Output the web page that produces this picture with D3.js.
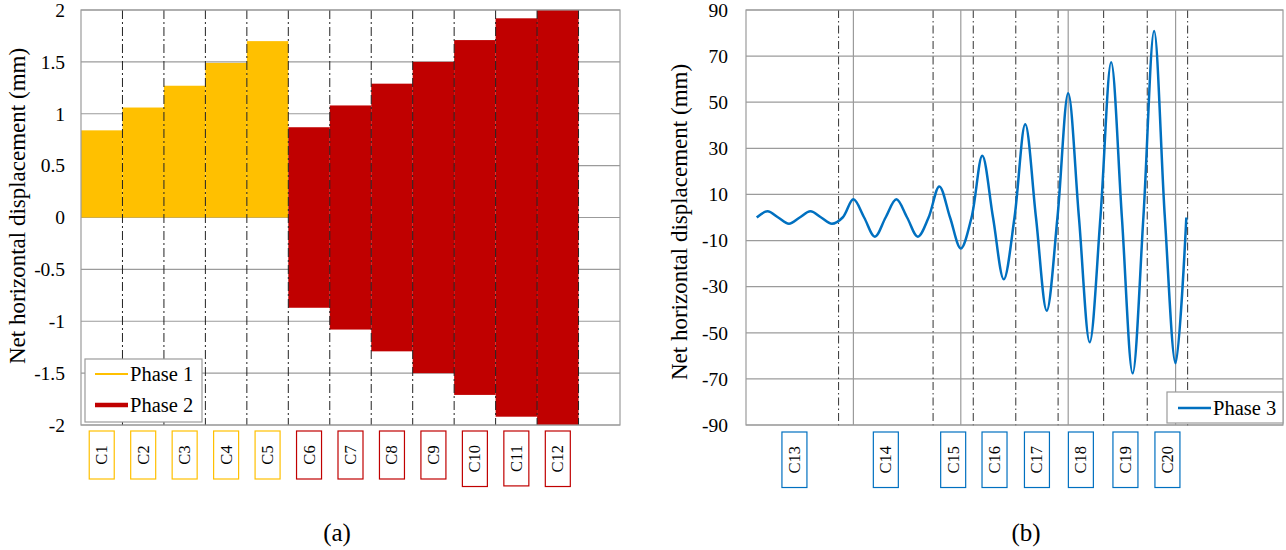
<!DOCTYPE html>
<html>
<head>
<meta charset="utf-8">
<script src="https://cdn.jsdelivr.net/npm/d3@7"></script>
<style>
  body { margin: 0; background: #fff; }
  text { font-family: "Liberation Serif", "Times New Roman", serif; fill: #000; }
</style>
</head>
<body>
<div id="chart"></div>
<script>
// Chart (a): net displacement per cycle
const phase1Labels = ["C1", "C2", "C3", "C4", "C5"];
const phase1Values = [0.84, 1.06, 1.27, 1.49, 1.70];
const phase2Labels = ["C6", "C7", "C8", "C9", "C10", "C11", "C12"];
const phase2Values = [0.87, 1.08, 1.29, 1.50, 1.71, 1.92, 2.13];
const yTicksA = [-2, -1.5, -1, -0.5, 0, 0.5, 1, 1.5, 2];

// Chart (b): phase 3 displacement history (zero crossings and peaks)
const phase3X = [5, 10, 15, 20, 25, 30, 35, 40, 45, 50, 55, 60, 65, 70, 75, 80, 85, 90, 95, 100,
                 105, 110, 115, 120, 125, 130, 135, 140, 145, 150, 155, 160, 165, 170, 175, 180,
                 185, 190, 195, 200, 205];
const phase3Y = [0, 2.7, 0, -2.7, 0, 2.7, 0, -2.7, 0, 7.9, 0, -8.3, 0, 7.9, 0, -8.3, 0, 13.5, 0, -13.4,
                 0, 26.8, 0, -26.8, 0, 40.4, 0, -40.4, 0, 53.9, 0, -54.1, 0, 67.3, 0, -67.6,
                 0, 80.9, 0, -63.2, 0];
const phase3Labels = ["C13", "C14", "C15", "C16", "C17", "C18", "C19", "C20"];
const cycleEdges = [2, 43.1, 87.1, 105.8, 125.6, 145.3, 166.5, 186.8, 205.6];
const xGridB = [50, 100, 150, 200];
const yTicksB = [-90, -70, -50, -30, -10, 10, 30, 50, 70, 90];

const width = 1286;
const height = 550;
const gridColor = "#9b9b9b";
const yellow = "#FFC000";
const red = "#C00000";
const blue = "#0070C0";

const svg = d3.select("#chart")
    .append("svg")
    .attr("width", width)
    .attr("height", height);

// helper: a rotated label inside a small box
function labelBox(parent, cx, top, label, color, minH) {
    const g = parent.append("g").attr("transform", `translate(${cx},${top})`);
    const rect = g.append("rect");
    const t = g.append("text")
        .attr("text-anchor", "middle")
        .attr("dominant-baseline", "central")
        .style("font-size", "16.5px")
        .text(label);
    const len = t.node().getComputedTextLength();
    const h = Math.max(minH, len + 28);
    t.attr("transform", `translate(0,${h / 2}) rotate(-90)`);
    rect.attr("x", -12.5).attr("y", 0)
        .attr("width", 25).attr("height", h)
        .attr("fill", "#fff")
        .attr("stroke", color)
        .attr("stroke-width", 1.2);
}

// ---------------- Chart (a) ----------------
const allLabels = phase1Labels.concat(phase2Labels);
const xA = d3.scaleBand()
    .domain(allLabels.concat(["_"]))
    .range([81, 620]);
const yA = d3.scaleLinear().domain([-2, 2]).range([425, 10]);

const gA = svg.append("g");

gA.append("clipPath").attr("id", "clipA")
    .append("rect").attr("x", 81).attr("y", 10).attr("width", 539).attr("height", 415);

// horizontal gridlines
gA.append("g").selectAll("line")
    .data(yTicksA)
    .enter().append("line")
    .attr("x1", 81).attr("x2", 620)
    .attr("y1", d => yA(d)).attr("y2", d => yA(d))
    .attr("stroke", gridColor).attr("stroke-width", 1.2);

// bars
const bars = gA.append("g").attr("clip-path", "url(#clipA)");
bars.selectAll(".p1")
    .data(phase1Values)
    .enter().append("rect")
    .attr("class", "p1")
    .attr("x", (d, i) => xA(phase1Labels[i]))
    .attr("width", xA.bandwidth())
    .attr("y", d => yA(d))
    .attr("height", d => yA(0) - yA(d))
    .attr("fill", yellow);
bars.selectAll(".p2")
    .data(phase2Values)
    .enter().append("rect")
    .attr("class", "p2")
    .attr("x", (d, i) => xA(phase2Labels[i]))
    .attr("width", xA.bandwidth())
    .attr("y", d => yA(d))
    .attr("height", d => yA(-d) - yA(d))
    .attr("fill", red);

// cycle separators (dash-dot)
const sepA = allLabels.slice(1).map(l => xA(l)).concat([xA("_")]);
gA.append("g").selectAll("line")
    .data(sepA)
    .enter().append("line")
    .attr("x1", d => d).attr("x2", d => d)
    .attr("y1", 10).attr("y2", 425)
    .attr("stroke", "#222").attr("stroke-width", 1)
    .attr("stroke-dasharray", "9,3,2,3");

// frame
gA.append("rect")
    .attr("x", 81).attr("y", 10).attr("width", 539).attr("height", 415)
    .attr("fill", "none").attr("stroke", gridColor).attr("stroke-width", 1.2);

// y axis
const axisA = gA.append("g")
    .attr("transform", "translate(81,0)")
    .call(d3.axisLeft(yA).tickValues(yTicksA).tickSize(0).tickPadding(16).tickFormat(d => String(d)));
axisA.select(".domain").remove();
axisA.selectAll("text").style("font-size", "19.5px").style("font-family", "Liberation Serif, serif");

gA.append("text")
    .attr("transform", "translate(17,206) rotate(-90)")
    .attr("text-anchor", "middle")
    .attr("dominant-baseline", "central")
    .style("font-size", "23px")
    .text("Net horizontal displacement (mm)");

// category label boxes
allLabels.forEach((l, i) => {
    labelBox(gA, xA(l) + xA.bandwidth() / 2, 431, l, i < phase1Labels.length ? yellow : red, 48);
});

// legend
const legA = gA.append("g");
legA.append("rect")
    .attr("x", 85).attr("y", 359).attr("width", 117).attr("height", 63)
    .attr("fill", "#fff").attr("stroke", gridColor).attr("stroke-width", 1.2);
legA.append("line").attr("x1", 95).attr("x2", 128).attr("y1", 374).attr("y2", 374)
    .attr("stroke", yellow).attr("stroke-width", 2);
legA.append("text").attr("x", 130).attr("y", 381).style("font-size", "20.5px").text("Phase 1");
legA.append("line").attr("x1", 95).attr("x2", 128).attr("y1", 405).attr("y2", 405)
    .attr("stroke", red).attr("stroke-width", 4.5);
legA.append("text").attr("x", 130).attr("y", 412).style("font-size", "20.5px").text("Phase 2");

gA.append("text")
    .attr("x", 337).attr("y", 541)
    .attr("text-anchor", "middle")
    .style("font-size", "25px")
    .text("(a)");

// ---------------- Chart (b) ----------------
const xB = d3.scaleLinear().domain([0, 250]).range([746, 1283]);
const yB = d3.scaleLinear().domain([-90, 90]).range([425, 10]);

const gB = svg.append("g");

gB.append("g").selectAll("line")
    .data(yTicksB)
    .enter().append("line")
    .attr("x1", 746).attr("x2", 1283)
    .attr("y1", d => yB(d)).attr("y2", d => yB(d))
    .attr("stroke", gridColor).attr("stroke-width", 1.2);

gB.append("g").selectAll("line")
    .data(xGridB)
    .enter().append("line")
    .attr("x1", d => xB(d)).attr("x2", d => xB(d))
    .attr("y1", 10).attr("y2", 425)
    .attr("stroke", gridColor).attr("stroke-width", 1.2);

gB.append("g").selectAll("line")
    .data(cycleEdges.slice(1))
    .enter().append("line")
    .attr("x1", d => xB(d)).attr("x2", d => xB(d))
    .attr("y1", 10).attr("y2", 428)
    .attr("stroke", "#333").attr("stroke-width", 1)
    .attr("stroke-dasharray", "8,3,1.5,3");

gB.append("rect")
    .attr("x", 746).attr("y", 10).attr("width", 537).attr("height", 415)
    .attr("fill", "none").attr("stroke", gridColor).attr("stroke-width", 1.2);

const line = d3.line()
    .x((d, i) => xB(phase3X[i]))
    .y(d => yB(d))
    .curve(d3.curveCatmullRom);

gB.append("path")
    .datum(phase3Y)
    .attr("d", line)
    .attr("fill", "none")
    .attr("stroke", blue)
    .attr("stroke-width", 2.5);

const axisB = gB.append("g")
    .attr("transform", "translate(746,0)")
    .call(d3.axisLeft(yB).tickValues(yTicksB).tickSize(0).tickPadding(18).tickFormat(d => String(d)));
axisB.select(".domain").remove();
axisB.selectAll("text").style("font-size", "19.5px").style("font-family", "Liberation Serif, serif");

gB.append("text")
    .attr("transform", "translate(679,222) rotate(-90)")
    .attr("text-anchor", "middle")
    .attr("dominant-baseline", "central")
    .style("font-size", "23px")
    .text("Net horizontal displacement (mm)");

phase3Labels.forEach((l, i) => {
    const cx = xB((cycleEdges[i] + cycleEdges[i + 1]) / 2);
    labelBox(gB, cx, 432, l, blue, 55);
});

const legB = gB.append("g");
legB.append("rect")
    .attr("x", 1167).attr("y", 392).attr("width", 116).attr("height", 31)
    .attr("fill", "#fff").attr("stroke", gridColor).attr("stroke-width", 1.2);
legB.append("line").attr("x1", 1178).attr("x2", 1211).attr("y1", 408).attr("y2", 408)
    .attr("stroke", blue).attr("stroke-width", 2.5);
legB.append("text").attr("x", 1213).attr("y", 415).style("font-size", "20.5px").text("Phase 3");

gB.append("text")
    .attr("x", 1026).attr("y", 541)
    .attr("text-anchor", "middle")
    .style("font-size", "25px")
    .text("(b)");
</script>
</body>
</html>
